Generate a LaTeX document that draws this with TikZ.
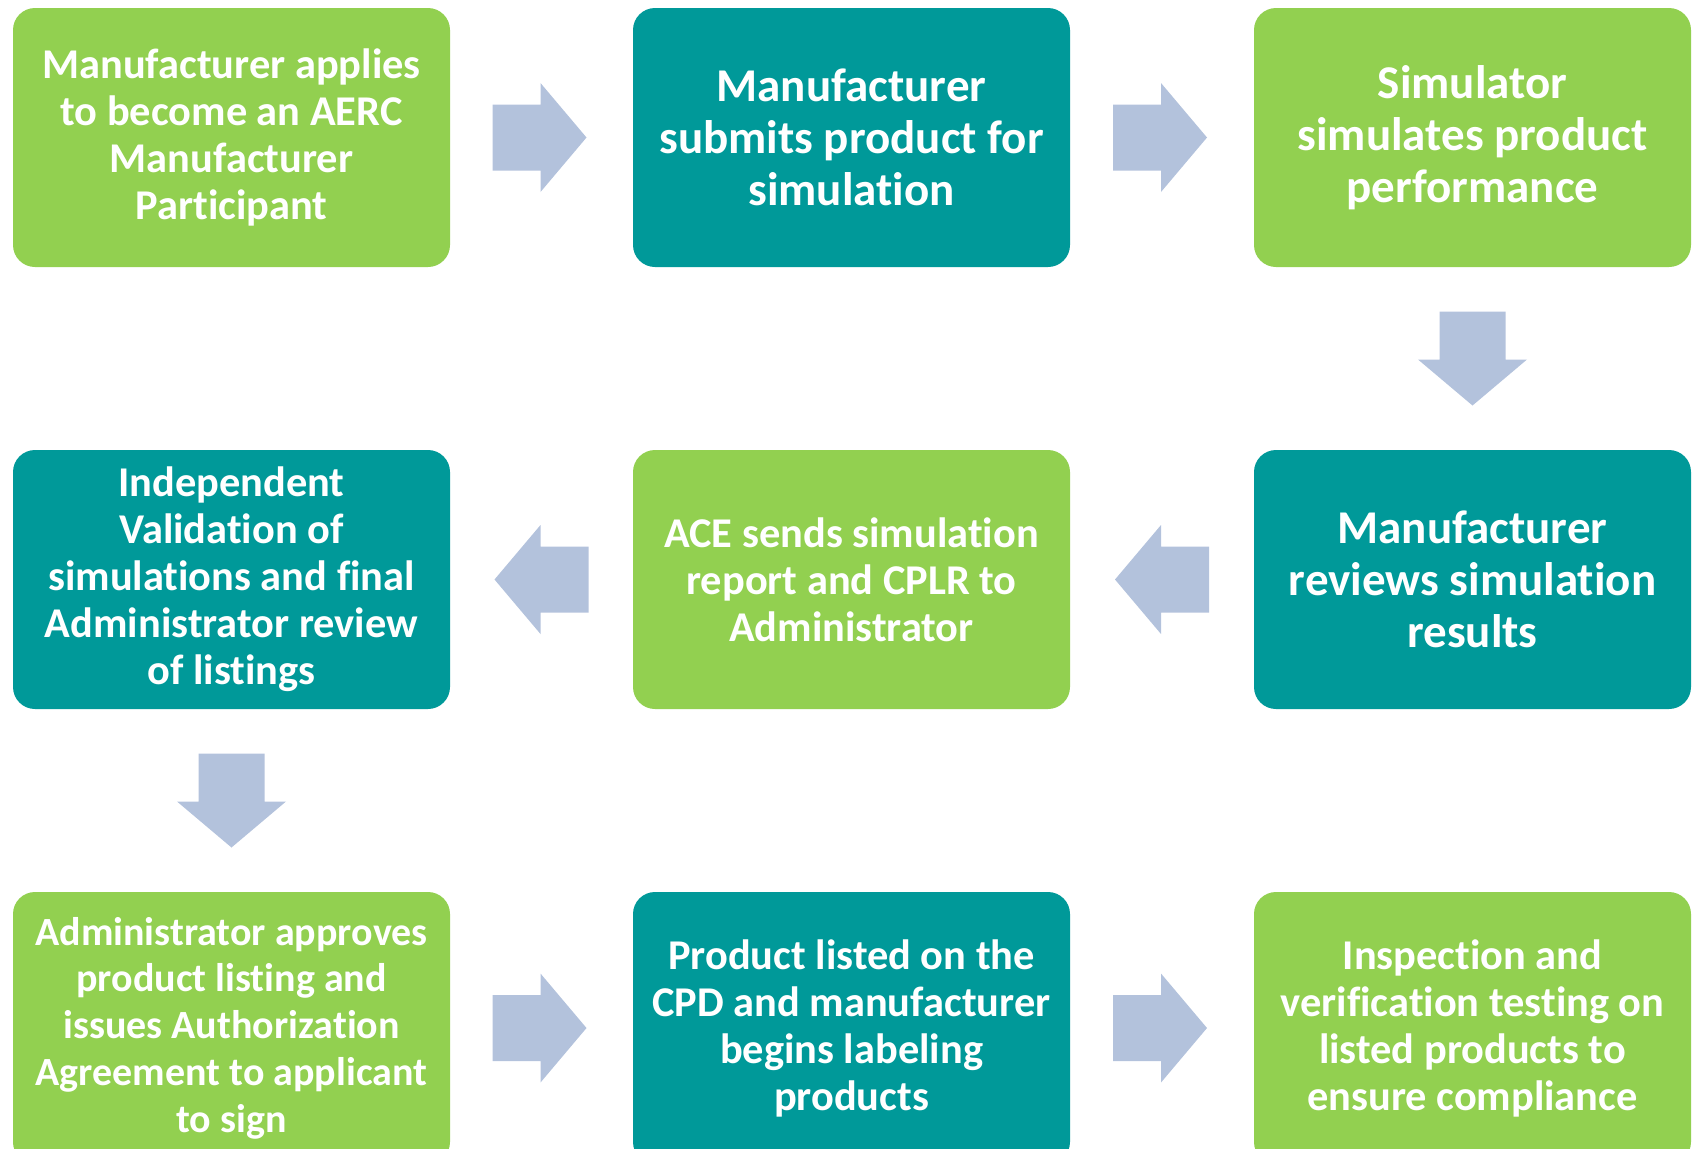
\documentclass[tikz,border=0pt]{standalone}
\usepackage{fontspec}
\setmainfont{Carlito}[Ligatures=NoCommon]
\usetikzlibrary{calc}
\definecolor{lgreen}{HTML}{92D050}
\definecolor{tealc}{HTML}{009999}
\definecolor{arrowc}{HTML}{B3C2DC}
\tikzset{
  box/.style={rounded corners=11pt, minimum width=218.5pt, minimum height=129.5pt,
    inner sep=0pt, align=center, text=white, font=\bfseries\fontsize{21.2}{23.5}\selectfont},
  big/.style={font=\bfseries\fontsize{23.5}{26}\selectfont},
  smallish/.style={font=\bfseries\fontsize{20}{23.4}\selectfont},
  gbox/.style={box, fill=lgreen},
  tbox/.style={box, fill=tealc},
  tall/.style={minimum height=136pt},
  barrow/.pic={\fill[arrowc] (-23.5pt,16.5pt) -- (0.5pt,16.5pt) -- (0.5pt,27.25pt) -- (23.5pt,0pt)
     -- (0.5pt,-27.25pt) -- (0.5pt,-16.5pt) -- (-23.5pt,-16.5pt) -- cycle;}
}
\begin{document}
\begin{tikzpicture}
\useasboundingbox (0,0) rectangle (846pt,-574pt);
\node[gbox] (a) at (115.75pt,-68.75pt) {Manufacturer applies\\to become an AERC\\Manufacturer\\Participant};
\node[tbox,big] (b) at (425.75pt,-68.75pt) {Manufacturer\\submits product for\\simulation};
\node[gbox,big] (c) at (736.25pt,-68.75pt) {Simulator\\simulates product\\performance};
\node[tbox] (d) at (115.75pt,-289.75pt) {Independent\\Validation of\\simulations and final\\Administrator review\\of listings};
\node[gbox] (e) at (425.75pt,-289.75pt) {ACE sends simulation\\report and CPLR to\\Administrator};
\node[tbox,big] (f) at (736.25pt,-289.75pt) {Manufacturer\\reviews simulation\\results};
\node[gbox,tall,smallish] (g) at (115.75pt,-514pt) {Administrator approves\\product listing and\\issues Authorization\\Agreement to applicant\\to sign};
\node[tbox,tall] (h) at (425.75pt,-514pt) {Product listed on the\\CPD and manufacturer\\begins labeling\\products};
\node[gbox,tall] (i) at (736.25pt,-514pt) {Inspection and\\verification testing on\\listed products to\\ensure compliance};
\pic at ($(a.east)!0.5!(b.west)+(-1pt,0)$) {barrow};
\pic at ($(b.east)!0.5!(c.west)+(-1pt,0)$) {barrow};
\pic[rotate=-90] at ($(c.south)!0.5!(f.north)$) {barrow};
\pic[rotate=180] at ($(f.west)!0.5!(e.east)$) {barrow};
\pic[rotate=180] at ($(e.west)!0.5!(d.east)$) {barrow};
\pic[rotate=-90] at ($(d.south)!0.5!(g.north)$) {barrow};
\pic at ($(g.east)!0.5!(h.west)+(-1pt,0)$) {barrow};
\pic at ($(h.east)!0.5!(i.west)+(-1pt,0)$) {barrow};
\end{tikzpicture}
\end{document}
